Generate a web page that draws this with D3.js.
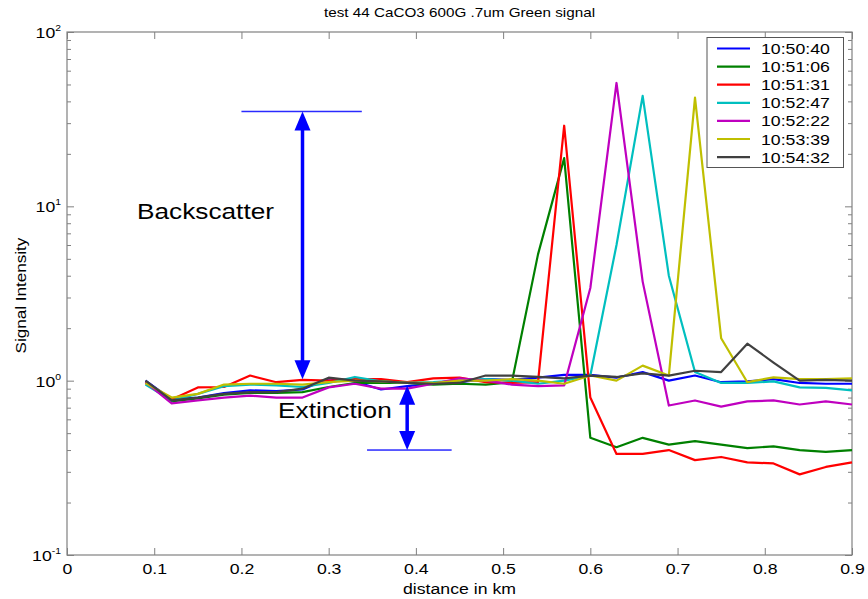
<!DOCTYPE html>
<html lang="en">
<head>
<meta charset="UTF-8">
<title>test 44 CaCO3 600G .7um Green signal</title>
<script src="https://d3js.org/d3.v7.min.js"></script>
<style>
  body { margin: 0; background: #fff; }
  text { font-family: "Liberation Sans", Arial, sans-serif; fill: #000; }
</style>
</head>
<body>
<svg id="chart" width="868" height="599"></svg>
<script>
// sample distances (km)
const distance = [0.09, 0.12, 0.15, 0.18, 0.21, 0.24, 0.27, 0.30, 0.33, 0.36, 0.39, 0.42, 0.45, 0.48,
                  0.51, 0.54, 0.57, 0.60, 0.63, 0.66, 0.69, 0.72, 0.75, 0.78, 0.81, 0.84, 0.87, 0.90];
const times = ["10:50:40", "10:51:06", "10:51:31", "10:52:47", "10:52:22", "10:53:39", "10:54:32"];
const colors = ["#0000ff", "#008000", "#ff0000", "#00bfbf", "#bf00bf", "#bfbf00", "#404040"];

const s1 = [1.00, 0.78, 0.80, 0.85, 0.88, 0.87, 0.89, 1.03, 0.99, 0.89, 0.93, 0.96, 0.98, 1.02,
            1.01, 1.04, 1.08, 1.08, 1.04, 1.12, 1.00, 1.07, 0.98, 0.99, 1.02, 0.97, 0.96, 0.96];
const s2 = [0.98, 0.76, 0.79, 0.83, 0.85, 0.85, 0.86, 0.92, 0.97, 0.97, 0.97, 0.95, 0.96, 0.95,
            0.98, 5.3, 18.9, 0.47, 0.415, 0.47, 0.43, 0.45, 0.43, 0.41, 0.42, 0.40, 0.39, 0.40];
const s3 = [0.97, 0.78, 0.915, 0.92, 1.07, 0.98, 1.01, 1.00, 1.02, 1.02, 0.98, 1.03, 1.04, 0.98,
            0.97, 0.98, 29, 0.80, 0.38, 0.38, 0.40, 0.35, 0.365, 0.34, 0.335, 0.29, 0.32, 0.34];
const s4 = [0.95, 0.77, 0.84, 0.93, 0.95, 0.94, 0.92, 0.97, 1.05, 0.99, 0.97, 0.98, 1.00, 1.02,
            1.00, 0.96, 1.00, 1.07, 6.0, 43, 4.0, 1.12, 0.97, 0.97, 0.99, 0.915, 0.91, 0.88];
const s5 = [0.98, 0.74, 0.77, 0.80, 0.82, 0.80, 0.80, 0.915, 0.96, 0.90, 0.90, 0.96, 1.03, 1.00,
            0.95, 0.93, 0.94, 3.4, 51, 3.7, 0.72, 0.77, 0.71, 0.76, 0.77, 0.73, 0.76, 0.73];
const s6 = [0.97, 0.80, 0.84, 0.95, 0.96, 0.96, 0.95, 0.98, 1.00, 0.99, 0.97, 0.97, 1.00, 1.00,
            1.02, 1.00, 0.96, 1.07, 1.00, 1.22, 1.07, 42, 1.75, 0.98, 1.045, 1.02, 1.02, 1.03];
const s7 = [1.00, 0.77, 0.80, 0.84, 0.86, 0.86, 0.90, 1.04, 1.00, 0.99, 0.97, 0.96, 0.97, 1.07,
            1.07, 1.05, 1.03, 1.07, 1.05, 1.10, 1.07, 1.14, 1.12, 1.63, 1.27, 1.00, 1.01, 1.00];
const seriesValues = [s1, s2, s3, s4, s5, s6, s7];

const xTicks = [0, 0.1, 0.2, 0.3, 0.4, 0.5, 0.6, 0.7, 0.8, 0.9];
const xTickLabels = ["0", "0.1", "0.2", "0.3", "0.4", "0.5", "0.6", "0.7", "0.8", "0.9"];
const yTicks = [0.1, 1, 10, 100];
const yExponents = ["-1", "0", "1", "2"];

const margin = { top: 32, right: 16, bottom: 44, left: 67 };
const width = 868 - margin.left - margin.right;
const height = 599 - margin.top - margin.bottom;
const SX = 1.22; // text in the original is a little wide

const root = d3.select("#chart");
const svg = root.append("g").attr("transform", `translate(${margin.left},${margin.top})`);

const x = d3.scaleLinear().domain([0, 0.9]).range([0, width]);
const y = d3.scaleLog().domain([0.1, 100]).range([height, 0]);

// minor log ticks
const minor = [];
[0.1, 1, 10].forEach(d => { for (let k = 2; k <= 9; k++) minor.push(d * k); });

// axes, ticks pointing inward
svg.append("g").attr("transform", `translate(0,${height})`)
    .call(d3.axisBottom(x).tickValues(xTicks).tickSize(-7).tickPadding(9)
        .tickFormat((d, i) => xTickLabels[i]))
    .call(g => g.selectAll("text").attr("font-size", 14.5).attr("transform", `scale(${SX},1)`));
svg.append("g")
    .call(d3.axisTop(x).tickValues(xTicks).tickSize(-7).tickFormat(""));
svg.append("g")
    .call(d3.axisLeft(y).tickValues(yTicks).tickSize(-7).tickFormat(""));
svg.append("g")
    .call(d3.axisLeft(y).tickValues(minor).tickSize(-4).tickFormat(""));
svg.append("g").attr("transform", `translate(${width},0)`)
    .call(d3.axisRight(y).tickValues(yTicks).tickSize(-7).tickFormat(""));
svg.append("g").attr("transform", `translate(${width},0)`)
    .call(d3.axisRight(y).tickValues(minor).tickSize(-4).tickFormat(""));
svg.selectAll(".domain").remove();
svg.selectAll(".tick line").attr("stroke", "#808080");

// y tick labels 10^n
yTicks.forEach((d, i) => {
    const t = svg.append("text")
        .attr("transform", `translate(-6,${y(d) + 6}) scale(${SX},1)`)
        .attr("text-anchor", "end")
        .attr("font-size", 14.5);
    t.append("tspan").text("10");
    t.append("tspan").attr("dy", -7).attr("font-size", 8.5).text(yExponents[i]);
});

// frame
svg.append("rect")
    .attr("width", width).attr("height", height)
    .attr("fill", "none").attr("stroke", "#808080").attr("stroke-width", 1.2);

// series lines
const line = d3.line().x((d, i) => x(distance[i])).y(d => y(d));
svg.selectAll(".series")
    .data(seriesValues)
    .enter().append("path")
    .attr("class", "series")
    .attr("d", d => line(d))
    .attr("fill", "none")
    .attr("stroke", (d, i) => colors[i])
    .attr("stroke-width", 2.2)
    .attr("stroke-linejoin", "round");

// annotations
const blue = "#0000ff";
function arrowHead(xv, yv, dir) {
    const px = x(xv), py = y(yv);
    return `M${px},${py}L${px - 8},${py + dir * 19}L${px + 8},${py + dir * 19}Z`;
}
// thin horizontal marker lines, drawn as filled strips
function marker(x0, x1, v) {
    svg.append("rect")
        .attr("x", x(x0)).attr("width", x(x1) - x(x0))
        .attr("y", y(v) - 0.75).attr("height", 1.5)
        .attr("fill", "#2a2aff");
}
// backscatter
marker(0.2, 0.338, 35);
svg.append("line")
    .attr("x1", x(0.27)).attr("x2", x(0.27)).attr("y1", y(35) + 15).attr("y2", y(1.02) - 15)
    .attr("stroke", blue).attr("stroke-width", 3.5);
svg.append("path").attr("d", arrowHead(0.27, 35, 1)).attr("fill", blue);
svg.append("path").attr("d", arrowHead(0.27, 1.02, -1)).attr("fill", blue);
svg.append("text")
    .attr("transform", `translate(${x(0.0803)},${y(8.46)}) scale(${SX},1)`)
    .attr("font-size", 21.5).text("Backscatter");
// extinction
marker(0.344, 0.441, 0.4);
svg.append("line")
    .attr("x1", x(0.39)).attr("x2", x(0.39)).attr("y1", y(0.935) + 15).attr("y2", y(0.4) - 15)
    .attr("stroke", blue).attr("stroke-width", 3.5);
svg.append("path").attr("d", arrowHead(0.39, 0.935, 1)).attr("fill", blue);
svg.append("path").attr("d", arrowHead(0.39, 0.4, -1)).attr("fill", blue);
svg.append("text")
    .attr("transform", `translate(${x(0.242)},${y(0.614)}) scale(${SX},1)`)
    .attr("font-size", 21.5).text("Extinction");

// legend
const legend = svg.append("g").attr("transform", `translate(${width - 145},5.5)`);
legend.append("rect")
    .attr("width", 136.5).attr("height", 130)
    .attr("fill", "#fff").attr("stroke", "#555").attr("stroke-width", 1);
times.forEach((t, i) => {
    const ry = 11 + i * 18.1;
    legend.append("line")
        .attr("x1", 10).attr("x2", 43).attr("y1", ry).attr("y2", ry)
        .attr("stroke", colors[i]).attr("stroke-width", 2.2);
    legend.append("text")
        .attr("transform", `translate(54,${ry + 5.5}) scale(${SX},1)`)
        .attr("font-size", 14.5).text(t);
});

// titles
root.append("text")
    .attr("transform", `translate(${margin.left + width / 2},17) scale(${SX},1)`)
    .attr("text-anchor", "middle").attr("font-size", 12.5)
    .text("test 44 CaCO3 600G .7um Green signal");
root.append("text")
    .attr("transform", `translate(${margin.left + width / 2},594) scale(${SX},1)`)
    .attr("text-anchor", "middle").attr("font-size", 14.5)
    .text("distance in km");
root.append("text")
    .attr("transform", `translate(26,${margin.top + height / 2 + 2}) rotate(-90) scale(${SX},1)`)
    .attr("text-anchor", "middle").attr("font-size", 14)
    .text("Signal Intensity");
</script>
</body>
</html>
